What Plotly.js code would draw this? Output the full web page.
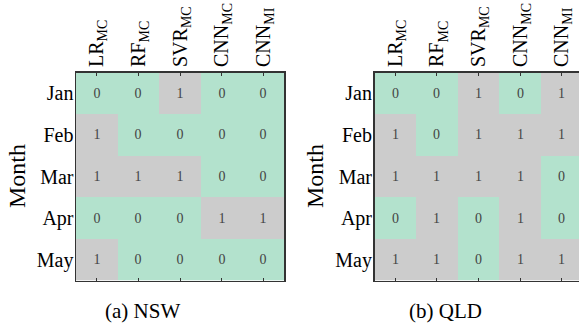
<!DOCTYPE html>
<html>
<head>
<meta charset="utf-8">
<script src="https://cdn.plot.ly/plotly-3.0.1.min.js"></script>
<style>
html,body{margin:0;padding:0;overflow:hidden;background:#fff;}
#chart{width:585px;height:328px;}
</style>
</head>
<body>
<div id="chart"></div>
<script>
const models = ["LR<sub>MC</sub>", "RF<sub>MC</sub>", "SVR<sub>MC</sub>", "CNN<sub>MC</sub>", "CNN<sub>MI</sub>"];
const months = ["Jan", "Feb", "Mar", "Apr", "May"];
const nswValues = [
  [0, 0, 1, 0, 0],
  [1, 0, 0, 0, 0],
  [1, 1, 1, 0, 0],
  [0, 0, 0, 1, 1],
  [1, 0, 0, 0, 0]
];
const qldValues = [
  [0, 0, 1, 0, 1],
  [1, 0, 1, 1, 1],
  [1, 1, 1, 1, 0],
  [0, 1, 0, 1, 0],
  [1, 1, 0, 1, 1]
];
const captions = ["(a) NSW", "(b) QLD"];

const W = 585, H = 328;
const FONT = "Liberation Serif";
const colorscale = [[0, "#b3e2cd"], [0.5, "#b3e2cd"], [0.5, "#cccccc"], [1, "#cccccc"]];
const LINE = "#333333";

function hm(z, xa, ya) {
  return {
    type: "heatmap", z: z, x: models, y: months, xaxis: xa, yaxis: ya,
    colorscale: colorscale, zmin: 0, zmax: 1, showscale: false,
    texttemplate: "%{z}", textfont: {family: FONT, size: 14, color: "#444444"},
    hoverinfo: "skip", xgap: 0, ygap: 0
  };
}

function xax(domain, anchor) {
  return {
    domain: domain, anchor: anchor, side: "top", type: "category",
    tickangle: -90, ticks: "inside", ticklen: 3, tickcolor: LINE, tickwidth: 1,
    mirror: "ticks", showline: true, linecolor: LINE, linewidth: 1.5,
    tickfont: {family: FONT, size: 20, color: "#000"}, showgrid: false, zeroline: false,
    fixedrange: true
  };
}
function yax(domain, anchor) {
  return {
    domain: domain, anchor: anchor, type: "category", autorange: "reversed",
    ticks: "", showline: true, mirror: true, linecolor: LINE, linewidth: 1.5,
    tickfont: {family: FONT, size: 20, color: "#000"}, showgrid: false, zeroline: false,
    ticklabelstandoff: -3, fixedrange: true
  };
}
function ytickax(over, anchor, domain) {
  return {
    overlaying: over, anchor: anchor, side: "right", domain: domain, type: "linear",
    range: [months.length - 0.5, -0.5], tickvals: months.map((m, i) => i),
    showticklabels: false, ticks: "inside", ticklen: 3, tickcolor: LINE,
    showline: false, showgrid: false, zeroline: false, fixedrange: true
  };
}

const yDom = [1 - 280.5 / H, 1 - 72.5 / H];
const x1Dom = [76 / W, 284 / W];
const x2Dom = [374.5 / W, 582.5 / W];

const data = [hm(nswValues, "x", "y"), hm(qldValues, "x2", "y2")];

const layout = {
  width: W, height: H, margin: {l: 0, r: 0, t: 0, b: 0},
  paper_bgcolor: "#fff", plot_bgcolor: "#fff", showlegend: false,
  font: {family: FONT, color: "#000"},
  xaxis: xax(x1Dom, "y"),
  yaxis: yax(yDom, "x"),
  xaxis2: xax(x2Dom, "y2"),
  yaxis2: yax(yDom, "x2"),
  yaxis3: ytickax("y", "x", yDom),
  yaxis4: ytickax("y2", "x2", yDom),
  annotations: [
    {text: "Month", x: 17 / W, y: 1 - 176 / H, xref: "paper", yref: "paper", textangle: -90,
     showarrow: false, font: {family: FONT, size: 24, color: "#000"}, xanchor: "center", yanchor: "middle"},
    {text: "Month", x: 315 / W, y: 1 - 176 / H, xref: "paper", yref: "paper", textangle: -90,
     showarrow: false, font: {family: FONT, size: 24, color: "#000"}, xanchor: "center", yanchor: "middle"},
    {text: captions[0], x: 142 / W, y: 1 - 311 / H, xref: "paper", yref: "paper",
     showarrow: false, font: {family: FONT, size: 21, color: "#000"}, xanchor: "center", yanchor: "middle"},
    {text: captions[1], x: 445 / W, y: 1 - 311 / H, xref: "paper", yref: "paper",
     showarrow: false, font: {family: FONT, size: 21, color: "#000"}, xanchor: "center", yanchor: "middle"}
  ]
};

Plotly.newPlot("chart", data, layout, {displayModeBar: false, staticPlot: true});
</script>
</body>
</html>
